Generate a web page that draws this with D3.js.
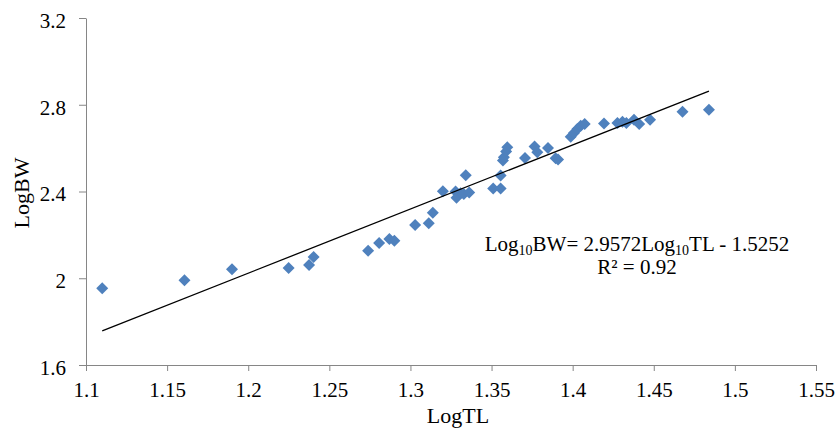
<!DOCTYPE html>
<html>
<head>
<meta charset="utf-8">
<script src="https://cdn.jsdelivr.net/npm/d3@7"></script>
<style>
  body { margin: 0; background: #fff; }
  svg { display: block; }
  text { font-family: "Liberation Serif", "Times New Roman", serif; }
</style>
</head>
<body>
<svg id="chart" width="835" height="439"></svg>
<script>
// LogTL values (x)
const logTL = [1.110, 1.1607, 1.190, 1.2249, 1.2375, 1.2403, 1.2739, 1.2807, 1.287, 1.2901,
  1.3029, 1.3113, 1.3138, 1.320, 1.3278, 1.3284, 1.3309, 1.3329, 1.3341, 1.3362,
  1.351, 1.3556, 1.3556, 1.357, 1.3576, 1.359, 1.3597, 1.3706, 1.3765, 1.3782,
  1.3848, 1.3895, 1.391, 1.3988, 1.4008, 1.4029, 1.405, 1.4074, 1.4193, 1.4276,
  1.4307, 1.4331, 1.4378, 1.441, 1.4477, 1.4677, 1.484];
// LogBW values (y)
const logBW = [1.954, 1.991, 2.041, 2.047, 2.061, 2.098, 2.127, 2.162, 2.181, 2.173,
  2.245, 2.254, 2.302, 2.401, 2.400, 2.371, 2.392, 2.389, 2.475, 2.395,
  2.414, 2.414, 2.474, 2.543, 2.558, 2.585, 2.604, 2.554, 2.608, 2.581,
  2.601, 2.553, 2.547, 2.653, 2.670, 2.688, 2.703, 2.711, 2.714, 2.716,
  2.722, 2.716, 2.731, 2.711, 2.731, 2.768, 2.777];
const xTicks = [1.1, 1.15, 1.2, 1.25, 1.3, 1.35, 1.4, 1.45, 1.5, 1.55];
const yTicks = [1.6, 2.0, 2.4, 2.8, 3.2];
// fitted line: Log10BW = 2.9572 Log10TL - 1.5252
const slope = 2.9572, intercept = -1.5252, r2 = 0.92;

const svg = d3.select("#chart");
const serif = "Liberation Serif, Times New Roman, serif";

const x = d3.scaleLinear().domain([1.1, 1.55]).range([86, 816]);
const y = d3.scaleLinear().domain([1.6, 3.2]).range([365, 18]);

const axisColor = "#868686";

// X axis
const gx = svg.append("g")
  .attr("transform", `translate(0,${y(1.6)})`)
  .call(d3.axisBottom(x).tickValues(xTicks).tickSize(6).tickSizeOuter(0)
    .tickFormat(d => String(+d.toFixed(2))))
  .attr("font-family", serif)
  .attr("font-size", 21);
gx.select(".domain").attr("stroke", axisColor);
gx.selectAll(".tick line").attr("stroke", axisColor);
gx.selectAll(".tick text").attr("fill", "#000").attr("y", 17);

// Y axis
const gy = svg.append("g")
  .attr("transform", `translate(${x(1.1)},0)`)
  .call(d3.axisLeft(y).tickValues(yTicks).tickSize(7).tickSizeOuter(0)
    .tickFormat(d => String(+d.toFixed(1))))
  .attr("font-family", serif)
  .attr("font-size", 21);
gy.select(".domain").attr("stroke", axisColor);
gy.selectAll(".tick line").attr("stroke", axisColor);
gy.selectAll(".tick text").attr("fill", "#000").attr("x", -20).attr("dy", "0.45em");

// Axis titles
svg.append("text")
  .attr("x", 458).attr("y", 423)
  .attr("text-anchor", "middle")
  .style("font-size", "22px")
  .text("LogTL");

svg.append("text")
  .attr("transform", `translate(29,193) rotate(-90)`)
  .attr("text-anchor", "middle")
  .style("font-size", "22px")
  .text("LogBW");

// Points
const pts = logTL.map((v, i) => ({ tl: v, bw: logBW[i] }));
const r = 6;
svg.append("g")
  .selectAll("path")
  .data(pts)
  .enter()
  .append("path")
  .attr("d", `M0,${-r}L${r},0L0,${r}L${-r},0Z`)
  .attr("transform", d => `translate(${x(d.tl)},${y(d.bw)})`)
  .attr("fill", "#4F81BD");

// Trend line over the data range
const ext = d3.extent(logTL);
const line = d3.line().x(d => x(d)).y(d => y(slope * d + intercept));
svg.append("path")
  .datum(ext)
  .attr("d", line)
  .attr("fill", "none")
  .attr("stroke", "#000")
  .attr("stroke-width", 1.3);

// Equation
const eq = svg.append("text")
  .attr("x", 637).attr("y", 251)
  .attr("text-anchor", "middle")
  .style("font-size", "21px");
eq.append("tspan").text("Log");
eq.append("tspan").attr("dy", 4).style("font-size", "14px").text("10");
eq.append("tspan").attr("dy", -4).text("BW= " + slope + "Log");
eq.append("tspan").attr("dy", 4).style("font-size", "14px").text("10");
eq.append("tspan").attr("dy", -4).text("TL - " + Math.abs(intercept));

svg.append("text")
  .attr("x", 637).attr("y", 274)
  .attr("text-anchor", "middle")
  .style("font-size", "21px")
  .text("R² = " + r2);
</script>
</body>
</html>
